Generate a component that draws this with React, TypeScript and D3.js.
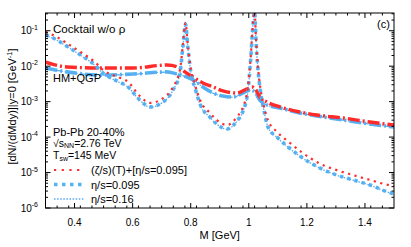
import React from "react";
import * as d3 from "d3";

const W = 411, H = 247;
const ML = 45.5, MR = 394, MT = 13, MB = 208;

// Cocktail w/o rho, (zeta/s)(T)+[eta/s=0.095]
const cocktailRedM = [0.300,0.333,0.367,0.426,0.470,0.498,0.539,0.584,0.625,0.660,0.694,0.739,0.763,0.773,0.782,0.790,0.801,0.815,0.832,0.866,0.890,0.925,0.959,0.980,0.997,1.007,1.014,1.020,1.025,1.031,1.041,1.051,1.066,1.097,1.135,1.186,1.245,1.303,1.359,1.417,1.479,1.500];
const cocktailRedV = [9.2e-2,7.1e-2,4.8e-2,2.35e-2,1.31e-2,7.8e-3,5.3e-3,3.6e-3,1.44e-3,9.2e-4,1.11e-3,2.6e-3,7.8e-3,3.96e-2,0.166,3.96e-2,7.8e-3,2.95e-3,1.11e-3,4.8e-4,3.03e-4,2.19e-4,3.69e-4,7.1e-4,2.6e-3,2.07e-2,0.145,0.355,5.5e-2,1.08e-2,2.13e-3,8.1e-4,3.03e-4,1.41e-4,7.6e-5,3.55e-5,1.78e-5,1.17e-5,8.5e-6,6.2e-6,4.5e-6,4.2e-6];
// Cocktail w/o rho, eta/s=0.095
const cocktailBlueM = cocktailRedM;
const cocktailBlueV = [7.6e-2,5.85e-2,3.96e-2,1.94e-2,1.08e-2,6.4e-3,4.1e-3,2.6e-3,1.11e-3,7.1e-4,8.6e-4,2.13e-3,6.4e-3,3.48e-2,0.155,3.48e-2,6.4e-3,2.4e-3,8.6e-4,3.69e-4,2.34e-4,1.69e-4,2.84e-4,5.4e-4,2.0e-3,1.78e-2,0.132,0.339,5.0e-2,9.3e-3,1.74e-3,6.3e-4,1.93e-4,1.0e-4,5.3e-5,2.57e-5,1.34e-5,8.5e-6,6.2e-6,4.46e-6,2.82e-6,2.48e-6];
// Cocktail w/o rho, eta/s=0.16
const cocktailThinV = [7.4e-2,5.7e-2,3.9e-2,1.9e-2,1.06e-2,6.3e-3,4.0e-3,2.55e-3,1.08e-3,7.0e-4,8.5e-4,2.1e-3,6.3e-3,3.4e-2,0.152,3.4e-2,6.3e-3,2.35e-3,8.4e-4,3.6e-4,2.3e-4,1.66e-4,2.8e-4,5.3e-4,1.95e-3,1.75e-2,0.13,0.335,4.9e-2,9.1e-3,1.7e-3,6.2e-4,1.9e-4,9.8e-5,5.2e-5,2.52e-5,1.32e-5,8.4e-6,6.1e-6,4.4e-6,2.78e-6,2.45e-6];

// HM+QGP
const hmRedM = [0.300,0.374,0.488,0.601,0.718,0.756,0.780,0.808,0.842,0.877,0.911,0.959,0.994,1.011,1.025,1.038,1.062,1.107,1.176,1.234,1.324,1.417,1.500];
const hmRedV = [1.31e-2,9.5e-3,8.9e-3,8.9e-3,1.08e-2,9.5e-3,6.9e-3,4.95e-3,3.36e-3,2.59e-3,2.0e-3,1.75e-3,2.28e-3,2.59e-3,2.13e-3,1.35e-3,9.8e-4,7.1e-4,5.1e-4,4.2e-4,3.46e-4,2.67e-4,2.19e-4];
const hmBlueM = [0.300,0.374,0.488,0.601,0.718,0.753,0.787,0.815,0.842,0.877,0.911,0.945,0.980,1.004,1.021,1.038,1.062,1.107,1.176,1.234,1.324,1.417,1.500];
const hmBlueV = [8.9e-3,6.9e-3,5.65e-3,6.0e-3,6.9e-3,6.0e-3,4.95e-3,3.83e-3,2.59e-3,1.75e-3,1.44e-3,1.35e-3,1.75e-3,2.13e-3,1.87e-3,1.11e-3,8.1e-4,6.6e-4,4.8e-4,3.94e-4,3.03e-4,2.34e-4,1.93e-4];
const hmThinV = [8.7e-3,6.8e-3,5.6e-3,5.9e-3,6.8e-3,5.9e-3,4.9e-3,3.8e-3,2.55e-3,1.72e-3,1.42e-3,1.33e-3,1.72e-3,2.1e-3,1.85e-3,1.1e-3,8.0e-4,6.5e-4,4.75e-4,3.9e-4,3.0e-4,2.32e-4,1.9e-4];

const xMajor = [0.4, 0.6, 0.8, 1.0, 1.2, 1.4];
const xMajorLabels = ["0.4", "0.6", "0.8", "1", "1.2", "1.4"];
const yMajorExp = [-6, -5, -4, -3, -2, -1];

const RED = "#ff2a2a";
const BLUE = "#55b4f0";
const BLUE2 = "#5aa6f5";
const FONT = "Liberation Sans, Arial, Helvetica, sans-serif";

export default function App() {
  const x = d3.scaleLinear().domain([0.3, 1.5]).range([ML, MR]);
  const y = d3.scaleLog().domain([1e-6, Math.pow(10, -0.5)]).range([MB, MT]);

  const line = d3
    .line<[number, number]>()
    .x((d) => x(d[0]))
    .y((d) => y(d[1]))
    .curve(d3.curveMonotoneX);
  const zip = (a: number[], b: number[]) => a.map((m, i) => [m, b[i]] as [number, number]);

  const xMinor: number[] = [];
  for (let i = 0; i <= 30; i++) {
    const m = 0.3 + i * 0.04;
    const isMajor = xMajor.some((v) => Math.abs(v - m) < 1e-6);
    if (!isMajor && m > 0.301 && m < 1.499) xMinor.push(m);
  }
  const yMinor: number[] = [];
  for (let e = -6; e <= -1; e++) {
    for (let k = 2; k <= 9; k++) {
      const v = k * Math.pow(10, e);
      if (v <= Math.pow(10, -0.5)) yMinor.push(v);
    }
  }

  return (
    <svg width={W} height={H} style={{ position: "absolute", left: 0, top: 0, background: "#fff" }} fontFamily={FONT}>
      <defs>
        <clipPath id="plot">
          <rect x={ML} y={MT} width={MR - ML} height={MB - MT} />
        </clipPath>
      </defs>
      <g clipPath="url(#plot)" fill="none">
        <path d={line(zip(hmBlueM, hmBlueV)) || ""} stroke={BLUE} strokeWidth={3.6} strokeDasharray="12 3 2 3" />
        <path d={line(zip(hmBlueM, hmThinV)) || ""} stroke={BLUE2} strokeWidth={1.2} strokeDasharray="6 2 1.5 2" />
        <path d={line(zip(hmRedM, hmRedV)) || ""} stroke={RED} strokeWidth={3.4} strokeDasharray="12 3 2 3" />
        <path d={line(zip(cocktailBlueM, cocktailBlueV)) || ""} stroke={BLUE} strokeWidth={3.6} strokeDasharray="3.5 4" />
        <path d={line(zip(cocktailBlueM, cocktailThinV)) || ""} stroke={BLUE2} strokeWidth={1.3} strokeDasharray="1.5 1.6" />
        <path d={line(zip(cocktailRedM, cocktailRedV)) || ""} stroke={RED} strokeWidth={2.2} strokeDasharray="2.2 4.5" />
      </g>

      {/* ticks */}
      <g stroke="#000" strokeWidth={1}>
        {xMajor.map((m) => (
          <g key={"xm" + m}>
            <line x1={x(m)} x2={x(m)} y1={MB} y2={MB - 5} />
            <line x1={x(m)} x2={x(m)} y1={MT} y2={MT + 5} />
          </g>
        ))}
        {xMinor.map((m) => (
          <g key={"xn" + m}>
            <line x1={x(m)} x2={x(m)} y1={MB} y2={MB - 2.5} />
            <line x1={x(m)} x2={x(m)} y1={MT} y2={MT + 2.5} />
          </g>
        ))}
        {yMajorExp.map((e) => (
          <g key={"ym" + e}>
            <line x1={ML} x2={ML + 5} y1={y(Math.pow(10, e))} y2={y(Math.pow(10, e))} />
            <line x1={MR} x2={MR - 5} y1={y(Math.pow(10, e))} y2={y(Math.pow(10, e))} />
          </g>
        ))}
        {yMinor.map((v) => (
          <g key={"yn" + v}>
            <line x1={ML} x2={ML + 2.5} y1={y(v)} y2={y(v)} />
            <line x1={MR} x2={MR - 2.5} y1={y(v)} y2={y(v)} />
          </g>
        ))}
      </g>
      <rect x={ML} y={MT} width={MR - ML} height={MB - MT} fill="none" stroke="#000" strokeWidth={1} />

      {/* tick labels */}
      <g fontSize={10} fill="#000">
        {xMajor.map((m, i) => (
          <text key={"xl" + m} x={x(m)} y={226} textAnchor="middle">{xMajorLabels[i]}</text>
        ))}
        {yMajorExp.map((e) => (
          <text key={"yl" + e} x={38} y={y(Math.pow(10, e)) + 3.5} textAnchor="end">
            10<tspan fontSize={7} dy={-4.5}>{e}</tspan>
          </text>
        ))}
      </g>

      {/* axis titles */}
      <text x={(ML + MR) / 2} y={239} fontSize={11} textAnchor="middle">M [GeV]</text>
      <text transform={`translate(16,${(MT + MB) / 2 - 4}) rotate(-90)`} fontSize={11} textAnchor="middle">
        [dN/(dMdy)]|y=0 [GeV<tspan fontSize={7.5} dy={-4}>-1</tspan><tspan dy={4}>]</tspan>
      </text>

      {/* annotations */}
      <g fontSize={11} fill="#000">
        <text x={53} y={33} fontSize={11.6}>Cocktail w/o ρ</text>
        <text x={53} y={82}>HM+QGP</text>
        <text x={377} y={28}>(c)</text>
        <text x={53} y={135.5}>Pb-Pb 20-40%</text>
        <text x={53} y={146.5} fontSize={10.5}>√s<tspan fontSize={7} dy={1.5}>NN</tspan><tspan dy={-1.5}>=2.76 TeV</tspan></text>
        <text x={53} y={159} fontSize={10.5}>T<tspan fontSize={7} dy={1.5}>sw</tspan><tspan dy={-1.5}>=145 MeV</tspan></text>
        <text x={91} y={174}>(ζ/s)(T)+[η/s=0.095]</text>
        <text x={91} y={188.5}>η/s=0.095</text>
        <text x={91} y={203}>η/s=0.16</text>
      </g>
      <g fill="none">
        <line x1={54} x2={84} y1={170} y2={170} stroke={RED} strokeWidth={2.2} strokeDasharray="2.2 5.5" />
        <line x1={54} x2={84} y1={184.5} y2={184.5} stroke={BLUE} strokeWidth={3.6} strokeDasharray="3.5 4.5" />
        <line x1={54} x2={84} y1={199} y2={199} stroke={BLUE2} strokeWidth={1.3} strokeDasharray="1.5 1.6" />
      </g>
    </svg>
  );
}
